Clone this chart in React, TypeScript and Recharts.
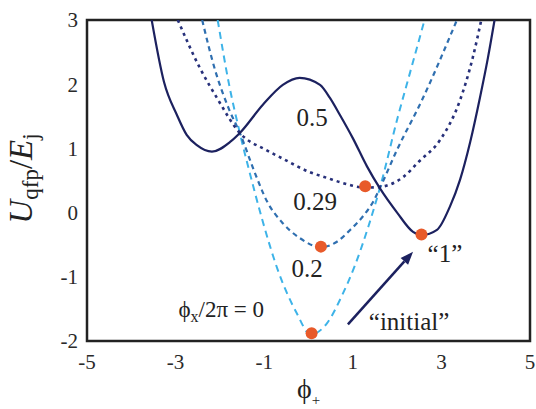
import React from "react";
import {
  ComposedChart,
  Line,
  Scatter,
  XAxis,
  YAxis,
  ReferenceArea,
  ReferenceDot,
  ReferenceLine,
} from "recharts";

// potential curves U_qfp/E_j vs phi_+, one per flux bias phi_x/2pi
const curve0: [number, number][] = [
  [-2.05, 3.0], [-1.8, 2.02], [-1.55, 1.24], [-1.3, 0.55], [-1.04, -0.12],
  [-0.7, -0.88], [-0.27, -1.56], [0.05, -1.9], [0.42, -1.72], [0.75, -1.3],
  [1.05, -0.82], [1.35, -0.22], [1.61, 0.38], [2.02, 1.5], [2.3, 2.2], [2.62, 3.0],
];
const curve02: [number, number][] = [
  [-2.4, 3.0], [-2.1, 2.2], [-1.8, 1.62], [-1.55, 1.24], [-1.2, 0.6],
  [-0.94, 0.18], [-0.6, -0.15], [-0.19, -0.4], [0.28, -0.54], [0.65, -0.45],
  [0.94, -0.27], [1.25, -0.04], [1.46, 0.17], [1.61, 0.38], [2.0, 0.98],
  [2.56, 1.75], [3.35, 3.0],
];
const curve029: [number, number][] = [
  [-2.95, 3.0], [-2.45, 2.25], [-2.07, 1.79], [-1.55, 1.24], [-0.94, 0.97],
  [-0.58, 0.84], [0.03, 0.63], [0.42, 0.54], [0.78, 0.46], [1.28, 0.39],
  [1.61, 0.4], [2.13, 0.55], [2.5, 0.8], [2.97, 1.13], [3.42, 1.75],
  [3.71, 2.42], [3.9, 3.0],
];
const curve05: [number, number][] = [
  [-3.54, 3.0], [-3.26, 2.03], [-2.97, 1.52], [-2.75, 1.21], [-2.52, 1.05],
  [-2.18, 0.95], [-1.77, 1.1], [-1.55, 1.24], [-1.03, 1.68], [-0.58, 1.99],
  [-0.2, 2.1], [0.26, 1.99], [0.48, 1.79], [0.71, 1.52], [1.0, 1.16],
  [1.32, 0.72], [1.61, 0.38], [2.0, 0.0], [2.36, -0.3], [2.56, -0.35],
  [2.9, -0.27], [3.19, 0.09], [3.42, 0.51], [3.65, 1.1], [3.87, 1.79],
  [4.05, 2.41], [4.2, 3.0],
];

// well minima (orange markers)
const minima: [number, number][] = [
  [0.07, -1.88], [0.28, -0.53], [1.28, 0.41], [2.55, -0.34],
];

const PHI_TICKS = [-5, -3, -1, 1, 3, 5];
const U_TICKS = [-2, -1, 0, 1, 2, 3];

// text anchors in data coordinates
const curveNotes: { x: number; y: number; text: string }[] = [
  { x: 0.08, y: 1.49, text: "0.5" },
  { x: 0.15, y: 0.18, text: "0.29" },
  { x: -0.03, y: -0.86, text: "0.2" },
  { x: 2.27, y: -1.7, text: "\u201Cinitial\u201D" },
  { x: 3.08, y: -0.63, text: "\u201C1\u201D" },
];
const fluxNote = { x: -1.97, y: -1.5 };
const arrowFrom = { x: 0.89, y: -1.74 };
const arrowTo = { x: 2.36, y: -0.61 };

const toRows = (pts: [number, number][]) => pts.map(([x, y]) => ({ x, y }));

const SERIF = "'Liberation Serif', 'Times New Roman', serif";
const INK = "#222";
const NAVY = "#1c215f";

function NoteLabel({ viewBox, text }: any) {
  const x = viewBox.x + (viewBox.width || 0) / 2;
  const y = viewBox.y + (viewBox.height || 0) / 2;
  return (
    <text x={x} y={y} dy="0.35em" textAnchor="middle" fontFamily={SERIF} fontSize={25} fill={INK}>
      {text}
    </text>
  );
}

function FluxLabel({ viewBox }: any) {
  const x = viewBox.x + (viewBox.width || 0) / 2;
  const y = viewBox.y + (viewBox.height || 0) / 2;
  return (
    <text x={x} y={y} dy="0.35em" textAnchor="middle" fontFamily={SERIF} fontSize={23} fill={INK}>
      <tspan>ϕ</tspan>
      <tspan fontSize={16} dy={5}>x</tspan>
      <tspan dy={-5}>/2π = 0</tspan>
    </text>
  );
}

function XTitle({ viewBox }: any) {
  const cx = viewBox.x + viewBox.width / 2;
  const y = viewBox.y + 57;
  return (
    <text x={cx} y={y} textAnchor="middle" fontFamily={SERIF} fontSize={28} fill={INK}>
      <tspan>ϕ</tspan>
      <tspan fontSize={15} dy={7}>+</tspan>
    </text>
  );
}

function YTitle({ viewBox }: any) {
  const x = viewBox.x + 32;
  const y = viewBox.y + viewBox.height / 2 - 2;
  return (
    <text
      x={x}
      y={y}
      textAnchor="middle"
      transform={`rotate(-90, ${x}, ${y})`}
      fontFamily={SERIF}
      fontSize={33}
      fill={INK}
    >
      <tspan fontStyle="italic">U</tspan>
      <tspan fontSize={23} dy={6}>qfp</tspan>
      <tspan dy={-6}>/</tspan>
      <tspan fontStyle="italic">E</tspan>
      <tspan fontSize={23} dy={6}>j</tspan>
    </text>
  );
}

function Arrow(props: any) {
  const { x1, y1, x2, y2 } = props;
  const a = Math.atan2(y2 - y1, x2 - x1);
  const len = 13;
  const half = 5;
  const bx = x2 - len * Math.cos(a);
  const by = y2 - len * Math.sin(a);
  const lx = bx + half * Math.sin(a);
  const ly = by - half * Math.cos(a);
  const rx = bx - half * Math.sin(a);
  const ry = by + half * Math.cos(a);
  return (
    <g>
      <line x1={x1} y1={y1} x2={bx} y2={by} stroke={NAVY} strokeWidth={2.5} />
      <polygon points={`${x2},${y2} ${lx},${ly} ${rx},${ry}`} fill={NAVY} />
    </g>
  );
}

function WellDot(props: any) {
  return <circle cx={props.cx} cy={props.cy} r={6} fill="#e85a2a" />;
}

export default function App() {
  const tick = { fontSize: 21, fill: "#2a2a2a", fontFamily: SERIF };
  return (
    <div style={{ position: "absolute", left: 0, top: 0, width: 536, height: 409, background: "#fff" }}>
      <ComposedChart width={536} height={409} margin={{ top: 20, right: 6, bottom: 0, left: 0 }}>
        <XAxis
          type="number"
          dataKey="x"
          domain={[-5, 5]}
          ticks={PHI_TICKS}
          allowDataOverflow
          axisLine={false}
          tickLine={false}
          tickMargin={7}
          height={68}
          tick={tick}
          label={<XTitle />}
        />
        <YAxis
          type="number"
          dataKey="y"
          domain={[-2, 3]}
          ticks={U_TICKS}
          allowDataOverflow
          axisLine={false}
          tickLine={false}
          tickMargin={3}
          width={87}
          tick={tick}
          label={<YTitle />}
        />
        <Line
          data={toRows(curve0)}
          dataKey="y"
          type="monotone"
          stroke="#3db3e8"
          strokeWidth={2}
          strokeDasharray="7 5"
          dot={false}
          isAnimationActive={false}
        />
        <Line
          data={toRows(curve02)}
          dataKey="y"
          type="monotone"
          stroke="#2f6fb0"
          strokeWidth={2.2}
          strokeDasharray="5 4"
          dot={false}
          isAnimationActive={false}
        />
        <Line
          data={toRows(curve029)}
          dataKey="y"
          type="monotone"
          stroke="#27307a"
          strokeWidth={2.6}
          strokeDasharray="3 4"
          dot={false}
          isAnimationActive={false}
        />
        <Line
          data={toRows(curve05)}
          dataKey="y"
          type="monotone"
          stroke={NAVY}
          strokeWidth={2.2}
          dot={false}
          isAnimationActive={false}
        />
        <Scatter data={toRows(minima)} dataKey="y" shape={<WellDot />} isAnimationActive={false} />
        {curveNotes.map((n) => (
          <ReferenceDot
            key={n.text}
            x={n.x}
            y={n.y}
            r={0}
            fill="none"
            stroke="none"
            label={<NoteLabel text={n.text} />}
          />
        ))}
        <ReferenceDot x={fluxNote.x} y={fluxNote.y} r={0} fill="none" stroke="none" label={<FluxLabel />} />
        <ReferenceLine segment={[arrowFrom, arrowTo]} shape={<Arrow />} />
        <ReferenceArea x1={-5} x2={5} y1={-2} y2={3} fill="none" stroke="#222" strokeWidth={2.5} />
      </ComposedChart>
    </div>
  );
}
